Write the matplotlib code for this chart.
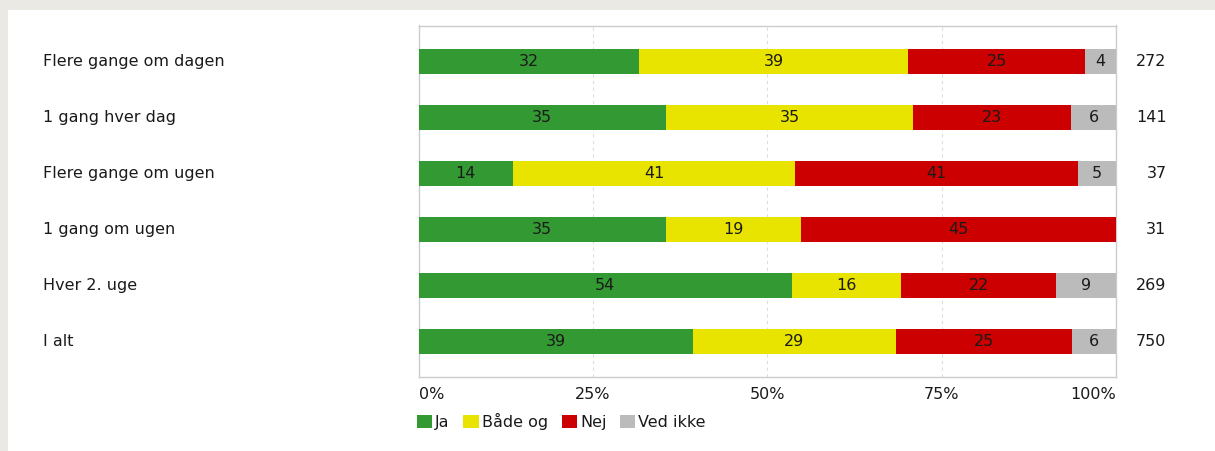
import numpy as np
import matplotlib
matplotlib.use("Agg")
import matplotlib.pyplot as plt
from matplotlib.patches import Rectangle, Patch

categories = ["Flere gange om dagen", "1 gang hver dag", "Flere gange om ugen",
              "1 gang om ugen", "Hver 2. uge", "I alt"]
counts = [272, 141, 37, 31, 269, 750]

series_names = ["Ja", "Både og", "Nej", "Ved ikke"]
ja = [31.62, 35.46, 13.51, 35.48, 53.53, 39.33]
begge = [38.60, 35.46, 40.54, 19.35, 15.61, 29.07]
nej = [25.37, 22.70, 40.54, 45.16, 22.30, 25.33]
ved_ikke = [4.41, 6.38, 5.41, 0.0, 8.55, 6.27]

x_ticks = [0, 25, 50, 75, 100]
x_tick_labels = ["0%", "25%", "50%", "75%", "100%"]

colors = ["#339933", "#E8E400", "#CC0000", "#BBBBBB"]
TEXT = "#1a1a1a"
FONT = 11.5

plt.rcParams["font.family"] = ["DejaVu Sans"]

fig = plt.figure(figsize=(12.15, 4.51), dpi=100)
fig.patch.set_facecolor("white")
# grey page frame on the left and top
fig.add_artist(Rectangle((0, 0), 8 / 1215, 1, transform=fig.transFigure,
                         facecolor="#EAE9E4", edgecolor="none", zorder=0))
fig.add_artist(Rectangle((0, 1 - 10 / 451), 1, 10 / 451, transform=fig.transFigure,
                         facecolor="#EAE9E4", edgecolor="none", zorder=0))

ax = fig.add_axes([418.5 / 1215, 1 - 377 / 451, 697.5 / 1215, 351.5 / 451])

y = np.arange(len(categories))
left = np.zeros(len(categories))
for name, vals, col in zip(series_names, [ja, begge, nej, ved_ikke], colors):
    vals = np.array(vals)
    ax.barh(y, vals, left=left, height=0.445, color=col, edgecolor="none",
            label=name, zorder=3)
    for yi, l, v in zip(y, left, vals):
        if v > 0:
            ax.text(l + v / 2, yi, str(int(v + 0.5)), ha="center", va="center",
                    fontsize=FONT, color=TEXT, zorder=4)
    left = left + vals

ax.set_xlim(0, 100)
ax.set_ylim(5.623, -0.632)
ax.set_yticks([])
ax.set_xticks(x_ticks)
ax.set_xticklabels(x_tick_labels, fontsize=FONT, color=TEXT)
ax.tick_params(axis="x", length=0, pad=7.5)
tl = ax.get_xticklabels()
tl[0].set_ha("left")
tl[-1].set_ha("right")

ax.grid(axis="x", linestyle=(0, (3, 3)), color="#DDDDDD", linewidth=0.8, zorder=1)
for s in ax.spines.values():
    s.set_color("#CCCCCC")
    s.set_linewidth(1.0)

for yi, cat, n in zip(y, categories, counts):
    ax.text(-0.538, yi, cat, transform=ax.get_yaxis_transform(), ha="left",
            va="center", fontsize=FONT, color=TEXT)
    ax.text(1.0724, yi, str(n), transform=ax.get_yaxis_transform(), ha="right",
            va="center", fontsize=FONT, color=TEXT)

handles = [Patch(facecolor=c, edgecolor="none") for c in colors]
fig.legend(handles, series_names, loc="upper left",
           bbox_to_anchor=(417 / 1215, 1 - 413 / 451), ncol=4, frameon=False,
           fontsize=FONT, handlelength=0.95, handleheight=0.95, handletextpad=0.2,
           columnspacing=0.85, borderpad=0, borderaxespad=0, labelcolor=TEXT)

fig.savefig("out.png", dpi=100)
